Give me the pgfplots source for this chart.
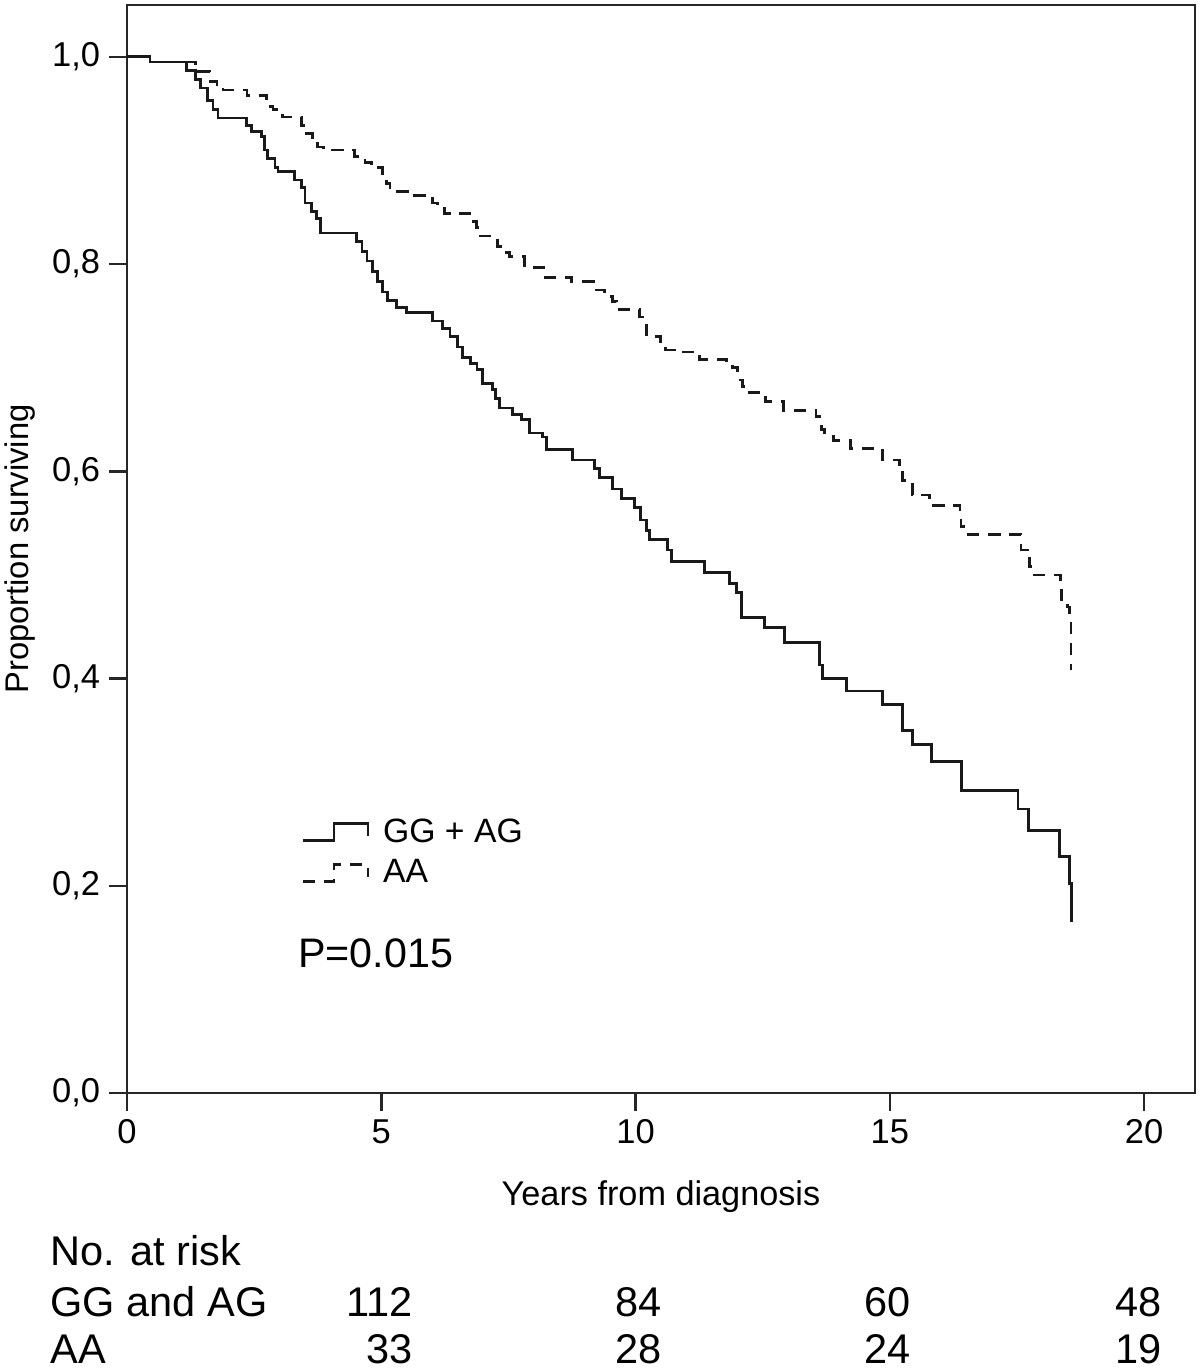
\documentclass[border=0pt]{standalone}
\usepackage{pgfplots}
\pgfplotsset{compat=1.18}
\usepackage{pgfplotstable}
\usepackage{fontspec}
\setmainfont{Liberation Sans}

\pgfplotstableread{
t S
0 1.000
0.45 0.995
1.17 0.987
1.34 0.978
1.45 0.970
1.59 0.958
1.69 0.949
1.79 0.941
2.35 0.934
2.45 0.928
2.65 0.923
2.71 0.910
2.77 0.902
2.91 0.893
2.97 0.889
3.30 0.881
3.43 0.874
3.50 0.859
3.63 0.851
3.73 0.844
3.80 0.830
4.52 0.822
4.62 0.812
4.72 0.803
4.82 0.793
4.92 0.783
5.02 0.773
5.12 0.765
5.30 0.758
5.50 0.753
6.00 0.745
6.20 0.738
6.35 0.730
6.50 0.720
6.60 0.710
6.75 0.704
6.88 0.698
6.99 0.685
7.19 0.679
7.25 0.670
7.33 0.661
7.58 0.655
7.76 0.650
7.92 0.637
8.17 0.633
8.25 0.621
8.76 0.611
9.19 0.603
9.29 0.594
9.55 0.583
9.72 0.574
9.98 0.565
10.10 0.553
10.22 0.543
10.27 0.534
10.63 0.524
10.71 0.513
11.36 0.502
11.85 0.492
11.98 0.483
12.08 0.459
12.53 0.449
12.93 0.435
13.61 0.413
13.67 0.400
14.15 0.388
14.85 0.375
15.25 0.350
15.44 0.336
15.82 0.320
16.41 0.292
17.52 0.274
17.72 0.253
18.33 0.228
18.53 0.202
18.57 0.165
}\gg

\pgfplotstableread{
t S
0 1.000
0.45 0.995
1.34 0.986
1.63 0.976
1.77 0.971
1.89 0.968
2.36 0.963
2.74 0.952
2.87 0.949
3.06 0.942
3.43 0.934
3.50 0.926
3.65 0.920
3.75 0.913
3.87 0.910
4.48 0.904
4.68 0.898
4.81 0.893
5.03 0.885
5.10 0.878
5.17 0.870
5.56 0.866
6.01 0.859
6.11 0.854
6.25 0.849
6.74 0.841
6.87 0.835
6.92 0.827
7.29 0.817
7.39 0.811
7.52 0.807
7.82 0.797
8.19 0.787
8.74 0.783
9.23 0.775
9.39 0.769
9.55 0.764
9.63 0.756
10.08 0.749
10.18 0.741
10.22 0.730
10.49 0.722
10.59 0.717
10.77 0.715
11.26 0.708
11.79 0.705
11.91 0.700
12.01 0.688
12.10 0.682
12.18 0.676
12.55 0.667
12.91 0.659
13.55 0.653
13.65 0.640
13.72 0.634
13.89 0.630
14.22 0.622
14.85 0.611
15.19 0.605
15.25 0.591
15.44 0.577
15.78 0.567
16.38 0.561
16.40 0.547
16.46 0.539
17.58 0.524
17.70 0.521
17.74 0.508
17.77 0.500
18.35 0.489
18.37 0.476
18.49 0.469
18.53 0.459
18.56 0.408
}\aa

\begin{document}
\begin{tikzpicture}[risk/.style={inner sep=0pt, font=\fontsize{16.6}{20}\selectfont}]
\begin{axis}[
  scale only axis,
  width=427.2pt, height=435.2pt,
  xmin=0, xmax=21, ymin=0, ymax=1.05,
  axis line style={line width=1.1pt, black!85},
  xtick={0,5,10,15,20},
  ytick={0,0.2,0.4,0.6,0.8,1.0},
  tick align=outside,
  xtick pos=bottom, ytick pos=left,
  major tick length=7.2pt,
  tick style={line width=1pt, black!85},
  /pgf/number format/assume math mode=true,
  yticklabel style={/pgf/number format/.cd, use comma, fixed, fixed zerofill, precision=1},
  xticklabel style={/pgf/number format/.cd, fixed, precision=0},
  tick label style={font=\fontsize{13.8}{16}\selectfont},
  xlabel={Years from diagnosis},
  ylabel={Proportion surviving},
  xlabel style={at={(axis description cs:0.5,-0.103)}, anchor=base, font=\fontsize{13.7}{16}\selectfont},
  ylabel style={at={(axis description cs:-0.0998,0.5)}, anchor=center, rotate=0, font=\fontsize{13.1}{16}\selectfont},
  clip=false,
  legend cell align=left,
  legend image code/.code={\draw[#1] (0pt,-3.4pt) -- (12.4pt,-3.4pt) -- (12.4pt,3.4pt) -- (26pt,3.4pt) -- (26pt,-1.5pt);},
  legend style={draw=none, fill=none, at={(axis description cs:0.156,0.262)}, anchor=north west,
    font=\fontsize{13.5}{16}\selectfont, row sep=1.5pt, column sep=3.5pt},
]
\addplot[const plot mark left, line width=1.1pt, black!90] table[x=t,y=S]{\gg};
\addlegendentry{GG + AG}
\addplot[const plot mark left, line width=1.1pt, black!90, dash pattern=on 5pt off 3.5pt] table[x=t,y=S]{\aa};
\addlegendentry{AA}

\node[anchor=base west, inner sep=0pt, font=\fontsize{16.5}{19}\selectfont] at (axis description cs:0.160,0.115) {P=0.015};

\node[risk, anchor=base west] at (axis cs:-1.51,-0.166) {No. at risk};
\node[risk, anchor=base west] at (axis cs:-1.51,-0.216) {GG and AG};
\node[risk, anchor=base west] at (axis cs:-1.51,-0.261) {AA};
\node[risk, anchor=base east] at (axis cs:5.62,-0.216) {112};
\node[risk, anchor=base east] at (axis cs:10.52,-0.216) {84};
\node[risk, anchor=base east] at (axis cs:15.42,-0.216) {60};
\node[risk, anchor=base east] at (axis cs:20.35,-0.216) {48};
\node[risk, anchor=base east] at (axis cs:5.62,-0.261) {33};
\node[risk, anchor=base east] at (axis cs:10.52,-0.261) {28};
\node[risk, anchor=base east] at (axis cs:15.42,-0.261) {24};
\node[risk, anchor=base east] at (axis cs:20.35,-0.261) {19};
\end{axis}
\pgfresetboundingbox
\path[use as bounding box] ([shift={(-50.8pt,-111.6pt)}]current axis.south west) rectangle ([shift={(2pt,2pt)}]current axis.north east);
\end{tikzpicture}
\end{document}
